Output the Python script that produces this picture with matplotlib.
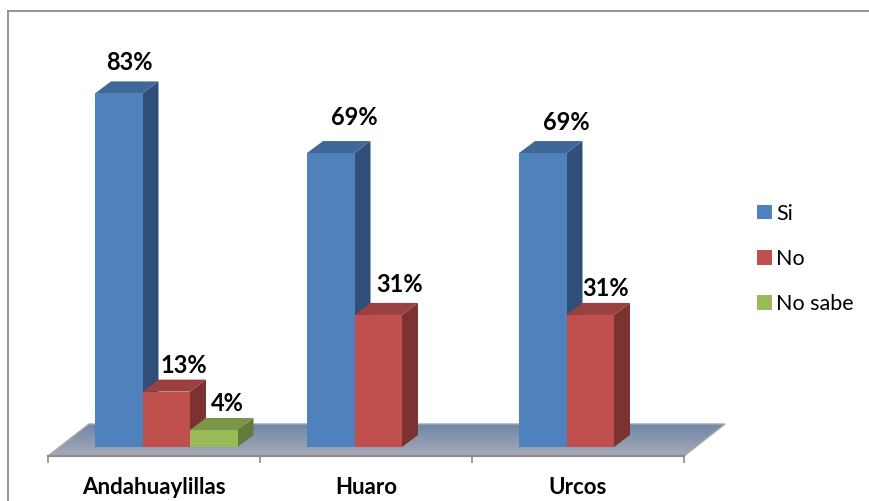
"""Grouped pseudo-3D bar chart: Si / No / No sabe per district."""
import numpy as np
import matplotlib
matplotlib.use("Agg")
import matplotlib.pyplot as plt
from matplotlib.colors import LinearSegmentedColormap
from matplotlib.lines import Line2D
from matplotlib.patches import Patch, Polygon

CATEGORIES = ["Andahuaylillas", "Huaro", "Urcos"]
SERIES = ["Si", "No", "No sabe"]
SI = [83, 69, 69]
NO = [13, 31, 31]
NO_SABE = [4, None, None]

# front, top, side
COLORS = {
    "Si": ("#4F81BD", "#3F6797", "#2F4F78"),
    "No": ("#C0504D", "#9A403E", "#7B3230"),
    "No sabe": ("#9BBB59", "#7C9647", "#657A3A"),
}
# label offsets from the bar's top-left front corner, in pixels (dpi 100)
LABEL_OFFSETS = {
    "Si": [(34, 31), (47, 36), (47, 31)],
    "No": [(41, 26), (45, 30), (39, 26)],
    "No sabe": [(37, 26), None, None],
}

PX_X = 212.0   # pixels per category
PX_Y = 4.26    # pixels per percent
BAR_W = 47.5 / PX_X
BAR_START = 47.0 / PX_X
BAR_DX, BAR_DY = 16 / PX_X, 12 / PX_Y
FLOOR_DX, FLOOR_DY = 41 / PX_X, 32 / PX_Y
FLOOR_Y = -9 / PX_Y
PT = 0.72  # px to pt

plt.rcParams.update({"font.family": ["Lato", "DejaVu Sans"]})
fig = plt.figure(figsize=(8.69, 5.01), dpi=100)
ax = fig.add_axes([48 / 869, 45 / 501, 636 / 869, 445 / 501])
ax.patch.set_visible(False)

# floor with its vertical gradient
floor = Polygon([(0, FLOOR_Y), (3, FLOOR_Y), (3 + FLOOR_DX, FLOOR_Y + FLOOR_DY),
                 (FLOOR_DX, FLOOR_Y + FLOOR_DY)], closed=True, fc="none",
                ec="#A6A6A6", lw=1.0, zorder=1, clip_on=False)
ax.add_patch(floor)
cmap = LinearSegmentedColormap.from_list("floor", ["#A6AAB6", "#7087AA"])
im = ax.imshow(np.linspace(0, 1, 64)[:, None], cmap=cmap, origin="lower",
               aspect="auto", zorder=0.5,
               extent=(0, 3 + FLOOR_DX, FLOOR_Y, FLOOR_Y + FLOOR_DY))
im.set_clip_path(floor)
im.set_clip_box(fig.bbox)

zorder = 2
for s, (name, values) in enumerate(zip(SERIES, (SI, NO, NO_SABE))):
    front, top, side = COLORS[name]
    for i, v in enumerate(values):
        if v is None:
            continue
        x0 = i + BAR_START + s * BAR_W
        x1 = x0 + BAR_W
        ax.add_patch(Polygon([(x1, 0), (x1 + BAR_DX, BAR_DY), (x1 + BAR_DX, v + BAR_DY), (x1, v)],
                             fc=side, ec="none", zorder=zorder, clip_on=False))
        ax.add_patch(Polygon([(x0, v), (x1, v), (x1 + BAR_DX, v + BAR_DY), (x0 + BAR_DX, v + BAR_DY)],
                             fc=top, ec="none", zorder=zorder, clip_on=False))
        ax.bar(x0, v, BAR_W, align="edge", color=front, zorder=zorder)
        zorder += 1
        ox, oy = LABEL_OFFSETS[name][i]
        ax.annotate(f"{v}%", (x0, v), xytext=(ox * PT, oy * PT), textcoords="offset points",
                    ha="center", va="center", fontsize=17, fontweight="bold",
                    color="black", zorder=20, annotation_clip=False)

ax.set_xlim(0, 3)
ax.set_ylim(FLOOR_Y, 436 / PX_Y)

for sp in ("top", "left", "right"):
    ax.spines[sp].set_visible(False)
ax.spines["bottom"].set_color("#8C8C8C")
ax.spines["bottom"].set_linewidth(1.6)
ax.spines["bottom"].set_zorder(15)
ax.set_yticks([])
ax.set_xticks([0, 1, 2, 3])
ax.set_xticklabels([])
ax.tick_params(axis="x", which="major", length=5, width=1.2, color="#8C8C8C")
ax.set_xticks([0.5, 1.5, 2.5], minor=True)
ax.set_xticklabels(CATEGORIES, minor=True, fontsize=16, fontweight="bold")
ax.tick_params(axis="x", which="minor", length=0, pad=15)

handles = [Patch(fc=COLORS[n][0], ec="none") for n in SERIES]
fig.legend(handles, SERIES, loc="center left", bbox_to_anchor=(757 / 869, 1 - 259 / 501),
           frameon=False, fontsize=15.5, handlelength=0.68, handleheight=0.68,
           handletextpad=0.2, labelspacing=1.18, borderpad=0, borderaxespad=0)

# picture frame: left and top only
fig.add_artist(Line2D([8 / 869, 8 / 869], [0, 1 - 11 / 501], color="#8C8C8C", lw=1.3))
fig.add_artist(Line2D([8 / 869, 1], [1 - 11 / 501, 1 - 11 / 501], color="#8C8C8C", lw=1.3))

fig.savefig("out.png", dpi=100)
